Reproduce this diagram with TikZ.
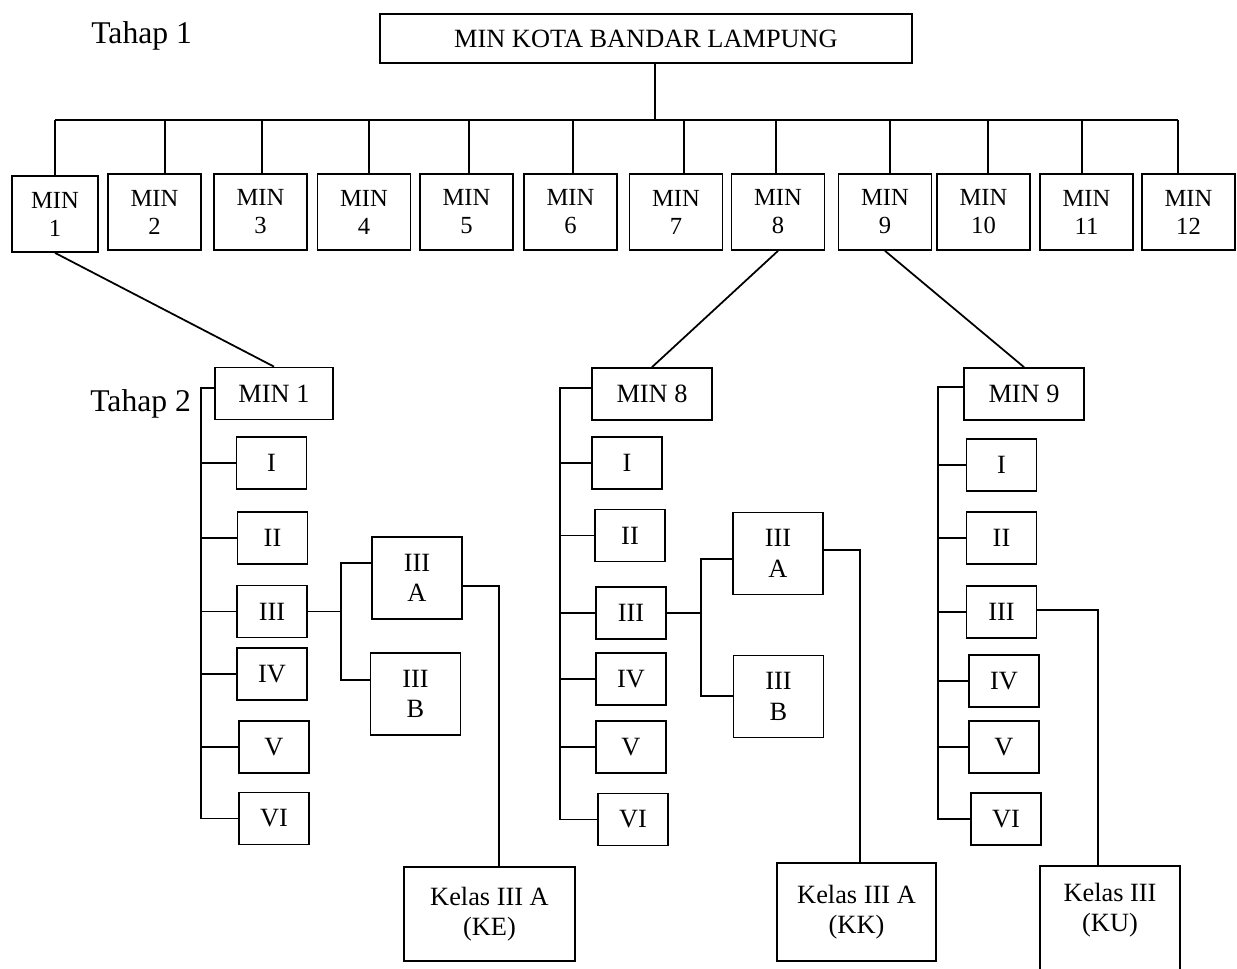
\documentclass[tikz,border=0pt]{standalone}
\usepackage{fontspec}
\setmainfont{Liberation Serif}
\tikzset{box/.style={draw,line width=1pt,align=center,inner sep=0pt,font=\fontsize{15}{17.4}\selectfont},
  topbox/.style={box,minimum width=10.64cm,minimum height=0.98cm},
  minbox/.style={box,minimum width=1.86cm,minimum height=1.52cm,font=\fontsize{14}{16}\selectfont},
  headbox/.style={box,minimum width=2.4cm,minimum height=1.04cm},
  clsbox/.style={box,minimum width=1.4cm,minimum height=1.04cm},
  subbox/.style={box,minimum width=1.8cm,minimum height=1.64cm},
  kelbox/.style={box,minimum width=3.42cm,minimum height=1.88cm},
  link/.style={line width=1pt},
  tahap/.style={font=\fontsize{18}{21}\selectfont,inner sep=0pt}}
\begin{document}
\begin{tikzpicture}[x=0.02cm,y=-0.02cm]
\useasboundingbox (0,0) rectangle (1237,968);
% Tahap 1
\node[tahap,anchor=base west] (t1) at (91,43) {Tahap 1};
\node[topbox] (top) at (646,38.5) {MIN KOTA BANDAR LAMPUNG};
\coordinate (bus) at (655,120);
\coordinate (busL) at (55,120);
\coordinate (busR) at (1178,120);
\draw[link] (top.south -| bus) -- (bus);
\draw[link] (busL) -- (busR);
\node[minbox,minimum width=1.72cm] (m1) at (55,214) {MIN\\1};
\draw[link] (m1.north) -- (m1.north |- bus);
\foreach \i/\cx/\dx in {2/154.5/10.5,3/260.5/1.5,4/364/5,5/466.5/2.5,6/570.5/2.5,7/676/8,
    8/778/-2,9/885/5,10/983.5/4.5,11/1086.5/-4.5,12/1188.5/-10.5}{
  \node[minbox] (m\i) at (\cx,212) {MIN\\\i};
  \path ([xshift=\dx*0.02cm]m\i.north) coordinate (n\i);
  \draw[link] (n\i) -- (n\i |- bus);
}
% Tahap 2
\node[tahap,anchor=base west] (t2) at (90,411) {Tahap 2};
% MIN 1
\node[headbox,minimum width=2.36cm] (h1) at (274,393.5) {MIN 1};
\node[clsbox] (c1i) at (271.5,463) {I};
\node[clsbox] (c1ii) at (272.5,538) {II};
\node[clsbox] (c1iii) at (272,611.5) {III};
\node[clsbox] (c1iv) at (272,674) {IV};
\node[clsbox] (c1v) at (274,747) {V};
\node[clsbox] (c1vi) at (274,818.5) {VI};
\node[subbox] (c1a) at (417,578) {III\\A};
\node[subbox] (c1b) at (415.5,694) {III\\B};
\node[kelbox] (k1) at (489.5,914) {Kelas III A\\(KE)};
\draw[link] (m1.south) -- (h1.north);
\coordinate (s1) at (201,388);
\draw[link] (h1.west |- s1) -- (s1) -- (s1 |- c1vi.west) -- (c1vi.west);
\foreach \c in {i,ii,iii,iv,v} \draw[link] (s1 |- c1\c.west) -- (c1\c.west);
\coordinate (b1a) at (341,563);
\coordinate (b1b) at (341,680);
\draw[link] (c1iii.east) -- (c1iii.east -| b1a);
\draw[link] (c1a.west |- b1a) -- (b1a) -- (b1b) -- (c1b.west |- b1b);
\coordinate (e1) at (499,586);
\draw[link] (c1a.east |- e1) -- (e1) -- (k1.north -| e1);
% MIN 8
\node[headbox] (h8) at (652,394) {MIN 8};
\node[clsbox] (c8i) at (627,463) {I};
\node[clsbox] (c8ii) at (630,535.5) {II};
\node[clsbox] (c8iii) at (631,613) {III};
\node[clsbox] (c8iv) at (631,679) {IV};
\node[clsbox] (c8v) at (631,747) {V};
\node[clsbox] (c8vi) at (633,819.5) {VI};
\node[subbox] (c8a) at (778,553.5) {III\\A};
\node[subbox] (c8b) at (778.5,696.5) {III\\B};
\node[kelbox,minimum width=3.18cm,minimum height=1.96cm] (k8) at (856.5,912) {Kelas III A\\(KK)};
\draw[link] (m8.south) -- (h8.north);
\coordinate (s8) at (560,388);
\draw[link] (h8.west |- s8) -- (s8) -- (s8 |- c8vi.west) -- (c8vi.west);
\foreach \c in {i,ii,iii,iv,v} \draw[link] (s8 |- c8\c.west) -- (c8\c.west);
\coordinate (b8a) at (701,559);
\coordinate (b8b) at (701,696);
\draw[link] (c8iii.east) -- (c8iii.east -| b8a);
\draw[link] (c8a.west |- b8a) -- (b8a) -- (b8b) -- (c8b.west |- b8b);
\coordinate (e8) at (860,550);
\draw[link] (c8a.east |- e8) -- (e8) -- (k8.north -| e8);
% MIN 9
\node[headbox] (h9) at (1024,394) {MIN 9};
\node[clsbox] (c9i) at (1001.5,465) {I};
\node[clsbox] (c9ii) at (1001.5,538) {II};
\node[clsbox] (c9iii) at (1001.5,612) {III};
\node[clsbox] (c9iv) at (1004,681) {IV};
\node[clsbox] (c9v) at (1004,747) {V};
\node[clsbox] (c9vi) at (1006,819) {VI};
\node[box,draw=none,minimum width=2.76cm,minimum height=1.72cm] (k9) at (1110,910) {Kelas III\\(KU)};
\draw[link] ([yshift=-2cm]k9.south west) -- (k9.north west) -- (k9.north east) -- ([yshift=-2cm]k9.south east);
\draw[link] (m9.south) -- (h9.north);
\coordinate (s9) at (938,387);
\draw[link] (h9.west |- s9) -- (s9) -- (s9 |- c9vi.west) -- (c9vi.west);
\foreach \c in {i,ii,iii,iv,v} \draw[link] (s9 |- c9\c.west) -- (c9\c.west);
\coordinate (e9) at (1098,610);
\draw[link] (c9iii.east |- e9) -- (e9) -- (k9.north -| e9);
\end{tikzpicture}
\end{document}
